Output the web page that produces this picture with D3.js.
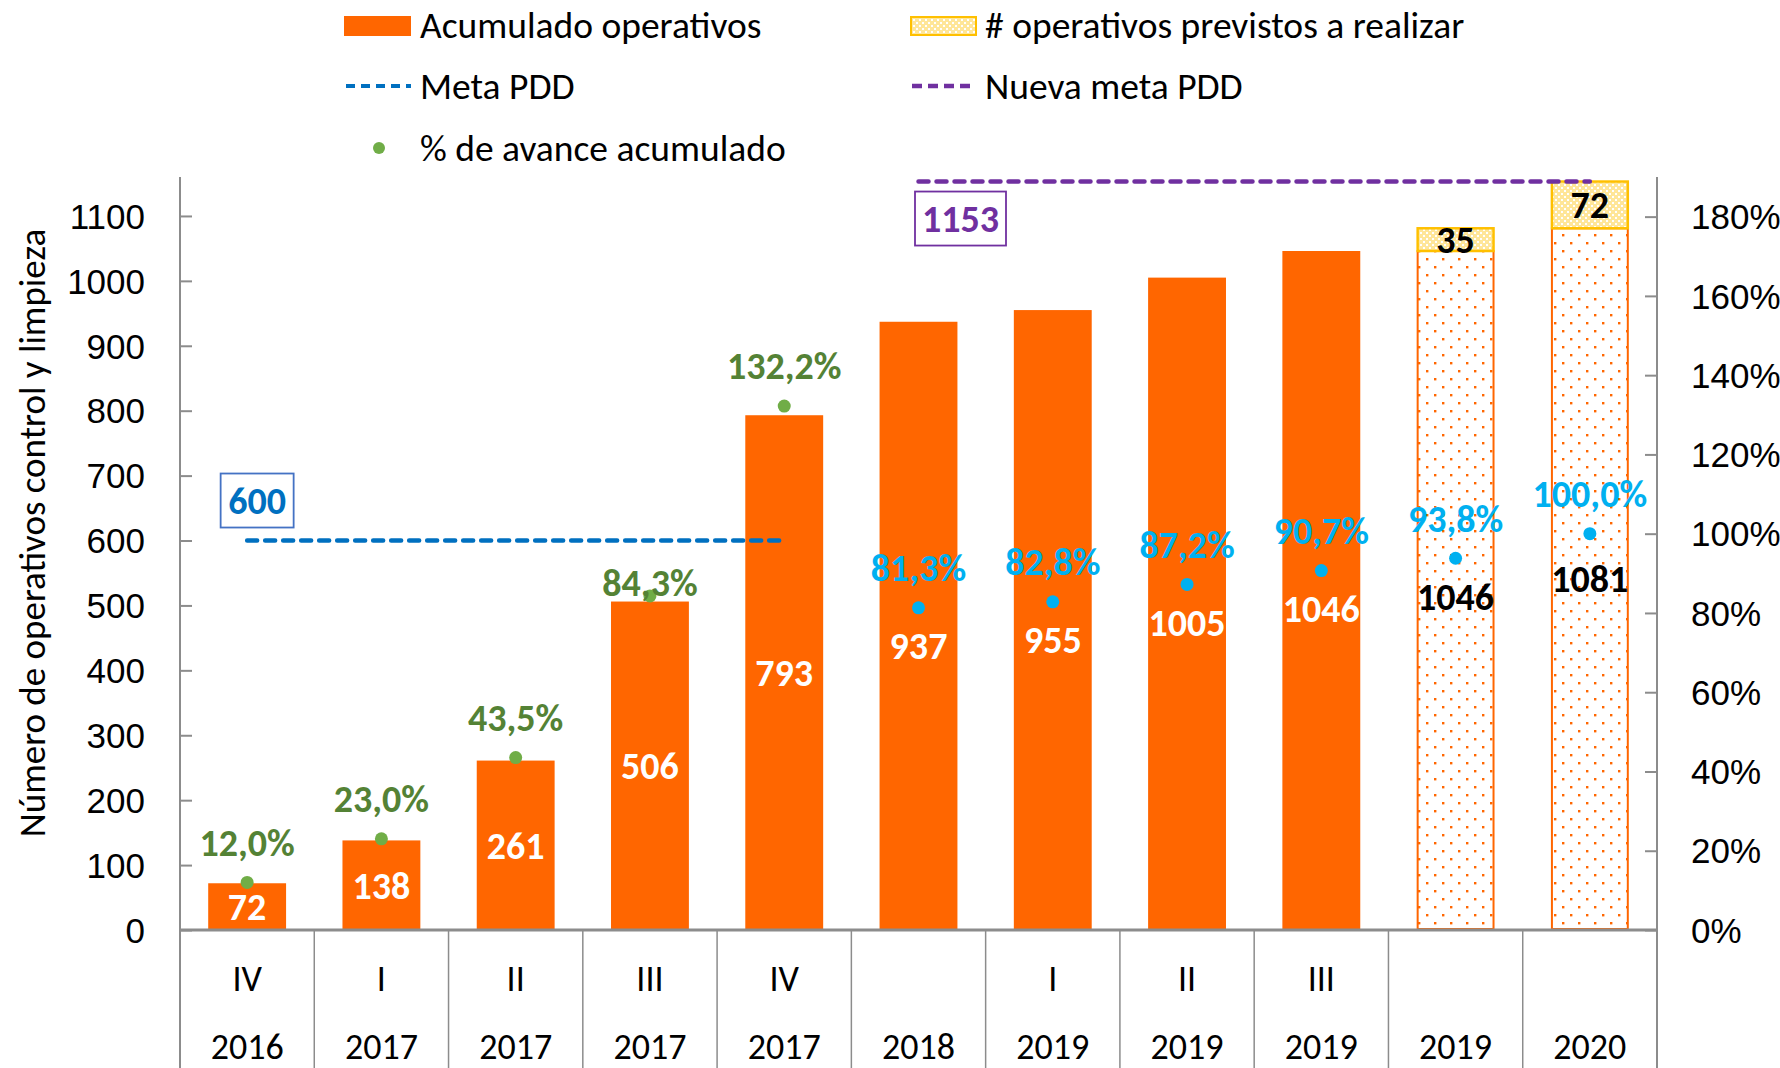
<!DOCTYPE html>
<html lang="es">
<head>
<meta charset="utf-8">
<title>Operativos control y limpieza</title>
<script src="https://d3js.org/d3.v7.min.js"></script>
<style>
  body{margin:0;background:#fff;}
  svg{font-family:Calibri, Carlito, Lato, sans-serif;}
</style>
</head>
<body>
<svg id="chart" width="1780" height="1068"></svg>
<script>
// data
var quarters = ["IV","I","II","III","IV","","I","II","III","",""]
var years = ["2016","2017","2017","2017","2017","2018","2019","2019","2019","2019","2020"]
var acumulado = [72,138,261,506,793,937,955,1005,1046,null,null]
var proyectado = [null,null,null,null,null,null,null,null,null,1046,1081]
var previstos = [null,null,null,null,null,null,null,null,null,35,72]
var avance = [0.120,0.230,0.435,0.843,1.322,0.813,0.828,0.872,0.907,0.938,1.000]
var metaPDD = [600,600,600,600,600,null,null,null,null,null,null]
var nuevaMeta = [null,null,null,null,null,1153,1153,1153,1153,1153,1153]
var leftTicks = [0,100,200,300,400,500,600,700,800,900,1000,1100]
var rightTicks = [0,0.2,0.4,0.6,0.8,1.0,1.2,1.4,1.6,1.8]

var orange = "#FF6600", yellow = "#FFC000", blue = "#0070C0", purple = "#7030A0"
var green = "#70AD47", greenText = "#548235", cyan = "#00B0F0", grid = "#8C8C8C"

var svg = d3.select("#chart")
var plotL = 180, plotR = 1657, plotT = 177, base = 930, plotB = 1068
var idx = d3.range(quarters.length)

var x = d3.scaleBand().domain(idx).range([plotL, plotR]).paddingInner(0.42).paddingOuter(0.21)
var step = (plotR - plotL) / idx.length
var cx = function(i){ return x(i) + x.bandwidth()/2 }
var yL = d3.scaleLinear().domain([0,1160]).range([base, plotT])
var yR = d3.scaleLinear().domain([0,1.9]).range([base, plotT])

// patterns
var defs = svg.append("defs")
var p1 = defs.append("pattern").attr("id","dotOrange").attr("patternUnits","userSpaceOnUse")
  .attr("width",16).attr("height",16)
p1.append("rect").attr("width",16).attr("height",16).attr("fill","#fff")
p1.append("rect").attr("x",2).attr("y",2).attr("width",2.4).attr("height",2.4).attr("fill",orange)
p1.append("rect").attr("x",10).attr("y",10).attr("width",2.4).attr("height",2.4).attr("fill",orange)
var p2 = defs.append("pattern").attr("id","dotYellow").attr("patternUnits","userSpaceOnUse")
  .attr("width",6).attr("height",6)
p2.append("rect").attr("width",6).attr("height",6).attr("fill","#FFE699")
p2.append("rect").attr("x",1).attr("y",1).attr("width",2).attr("height",2).attr("fill","#fff")
p2.append("rect").attr("x",4).attr("y",4).attr("width",2).attr("height",2).attr("fill","#fff")

// axes
var axL = svg.append("g").attr("transform","translate("+plotL+",0)")
  .call(d3.axisRight(yL).tickValues(leftTicks).tickSize(12).tickFormat(d3.format("d")))
axL.select(".domain").remove()
axL.selectAll("line").attr("stroke",grid).attr("stroke-width",2)
axL.selectAll("text").attr("x",-35).attr("text-anchor","end").attr("font-size",35).attr("fill","#000").attr("dy","0.35em")

var axR = svg.append("g").attr("transform","translate("+plotR+",0)")
  .call(d3.axisLeft(yR).tickValues(rightTicks).tickSize(12).tickFormat(d3.format(".0%")))
axR.select(".domain").remove()
axR.selectAll("line").attr("stroke",grid).attr("stroke-width",2)
axR.selectAll("text").attr("x",34).attr("text-anchor","start").attr("font-size",35).attr("fill","#000").attr("dy","0.35em")

svg.append("line").attr("x1",plotL).attr("x2",plotL).attr("y1",plotT).attr("y2",plotB).attr("stroke",grid).attr("stroke-width",2)
svg.append("line").attr("x1",plotR).attr("x2",plotR).attr("y1",plotT).attr("y2",plotB).attr("stroke",grid).attr("stroke-width",2)

// category separators
svg.selectAll(".sep").data(d3.range(1, idx.length)).enter().append("line")
  .attr("x1",function(d){ return plotL + d*step }).attr("x2",function(d){ return plotL + d*step })
  .attr("y1",base).attr("y2",plotB).attr("stroke",grid).attr("stroke-width",1.5)

svg.selectAll(".q").data(idx).enter().append("text")
  .attr("x",cx).attr("y",978).attr("dy","0.35em").attr("text-anchor","middle")
  .attr("font-size",36).text(function(i){ return quarters[i] })
svg.selectAll(".yr").data(idx).enter().append("text")
  .attr("x",cx).attr("y",1046).attr("dy","0.35em").attr("text-anchor","middle")
  .attr("font-size",36).text(function(i){ return years[i] })

svg.append("text").attr("transform","translate(32,533) rotate(-90)").attr("text-anchor","middle")
  .attr("dy","0.35em").attr("font-size",37).text("Número de operativos control y limpieza")

// bars
var solid = idx.filter(function(i){ return acumulado[i] != null })
var proj = idx.filter(function(i){ return proyectado[i] != null })
svg.selectAll(".bar").data(solid).enter().append("rect")
  .attr("x",function(i){ return x(i) }).attr("width",x.bandwidth())
  .attr("y",function(i){ return yL(acumulado[i]) })
  .attr("height",function(i){ return base - yL(acumulado[i]) }).attr("fill",orange)
svg.selectAll(".pbar").data(proj).enter().append("rect")
  .attr("x",function(i){ return x(i)+1 }).attr("width",x.bandwidth()-2)
  .attr("y",function(i){ return yL(proyectado[i]) })
  .attr("height",function(i){ return base - yL(proyectado[i]) - 1 })
  .attr("fill","url(#dotOrange)").attr("stroke",orange).attr("stroke-width",2)
svg.selectAll(".sbar").data(proj).enter().append("rect")
  .attr("x",function(i){ return x(i)+1 }).attr("width",x.bandwidth()-2)
  .attr("y",function(i){ return yL(proyectado[i]+previstos[i]) })
  .attr("height",function(i){ return yL(proyectado[i]) - yL(proyectado[i]+previstos[i]) })
  .attr("fill","url(#dotYellow)").attr("stroke",yellow).attr("stroke-width",2.5)

svg.append("line").attr("x1",plotL).attr("x2",plotR).attr("y1",base).attr("y2",base).attr("stroke",grid).attr("stroke-width",3)

// target lines
function dashLine(arr, color){
  var pts = idx.filter(function(i){ return arr[i] != null })
  var line = d3.line().x(function(i){ return cx(i) }).y(function(i){ return yL(arr[i]) })
  svg.append("path").datum(pts).attr("d",line).attr("fill","none").attr("stroke",color)
    .attr("stroke-width",4.5).attr("stroke-dasharray","10,8").attr("stroke-linecap","round")
  return pts
}
var m1 = dashLine(metaPDD, blue)
var m2 = dashLine(nuevaMeta, purple)

function boxLabel(px, py, txt, color, border, w){
  svg.append("rect").attr("x",px-w/2).attr("y",py-27).attr("width",w).attr("height",54)
    .attr("fill","#fff").attr("stroke",border).attr("stroke-width",1.8)
  svg.append("text").attr("x",px).attr("y",py).attr("dy","0.35em").attr("text-anchor","middle")
    .attr("font-size",38).attr("font-weight","bold").attr("fill",color).text(txt)
}
boxLabel(cx(m1[0])+10, yL(metaPDD[m1[0]])-40, metaPDD[m1[0]], blue, "#4472C4", 73)
boxLabel(cx(m2[0])+42, yL(nuevaMeta[m2[0]])+37, nuevaMeta[m2[0]], purple, purple, 91)

var isOld = function(i){ return metaPDD[i] != null }

// value labels inside bars, pushed below the % marker when they would collide
function labelY(v, i){
  var c = (base + yL(v))/2
  if (isOld(i)) return c
  return Math.max(c, yR(avance[i]) + 38)
}
svg.selectAll(".vl").data(solid).enter().append("text")
  .attr("x",cx).attr("y",function(i){ return labelY(acumulado[i], i) }).attr("dy","0.35em")
  .attr("text-anchor","middle").attr("font-size",38).attr("font-weight","bold").attr("fill","#fff")
  .text(function(i){ return acumulado[i] })
svg.selectAll(".pl").data(proj).enter().append("text")
  .attr("x",cx).attr("y",function(i){ return labelY(proyectado[i], i) }).attr("dy","0.35em")
  .attr("text-anchor","middle").attr("font-size",38).attr("font-weight","bold").attr("fill","#000")
  .text(function(i){ return proyectado[i] })
svg.selectAll(".sl").data(proj).enter().append("text")
  .attr("x",cx).attr("y",function(i){ return (yL(proyectado[i]) + yL(proyectado[i]+previstos[i]))/2 }).attr("dy","0.35em")
  .attr("text-anchor","middle").attr("font-size",38).attr("font-weight","bold").attr("fill","#000")
  .text(function(i){ return previstos[i] })

// % avance
var pct = function(v){ return d3.format(".1f")(v*100).replace(".",",") + "%" }
function pctY(i){
  var y = yR(avance[i]) - 40
  // keep clear of the Meta PDD line
  if (isOld(i) && Math.abs(y - yL(metaPDD[i])) < 30) y = yR(avance[i]) - 13
  return y
}
svg.selectAll(".dot").data(idx).enter().append("circle")
  .attr("cx",cx).attr("cy",function(i){ return yR(avance[i]) }).attr("r",6.5)
  .attr("fill",function(i){ return isOld(i) ? green : cyan })
svg.selectAll(".pt").data(idx).enter().append("text")
  .attr("x",cx).attr("y",pctY).attr("dy","0.35em")
  .attr("text-anchor","middle").attr("font-size",38).attr("font-weight","bold")
  .attr("fill",function(i){ return isOld(i) ? greenText : cyan })
  .text(function(i){ return pct(avance[i]) })

// legend
var lg = svg.append("g")
lg.append("rect").attr("x",344).attr("y",16).attr("width",67).attr("height",20).attr("fill",orange)
lg.append("rect").attr("x",911).attr("y",17).attr("width",65).attr("height",18).attr("fill","url(#dotYellow)").attr("stroke",yellow).attr("stroke-width",2)
lg.append("line").attr("x1",346).attr("x2",411).attr("y1",86).attr("y2",86).attr("stroke",blue).attr("stroke-width",4).attr("stroke-dasharray","9,6")
lg.append("line").attr("x1",912).attr("x2",976).attr("y1",86).attr("y2",86).attr("stroke",purple).attr("stroke-width",4.5).attr("stroke-dasharray","10,6")
lg.append("circle").attr("cx",379).attr("cy",148).attr("r",6).attr("fill",green)
var legendText = [[420,25,"Acumulado operativos"],[985,25,"# operativos previstos a realizar"],
  [420,86,"Meta PDD"],[985,86,"Nueva meta PDD"],[420,148,"% de avance acumulado"]]
lg.selectAll("text").data(legendText).enter().append("text")
  .attr("x",function(d){ return d[0] }).attr("y",function(d){ return d[1] }).attr("dy","0.35em")
  .attr("font-size",37.5).text(function(d){ return d[2] })
</script>
</body>
</html>
